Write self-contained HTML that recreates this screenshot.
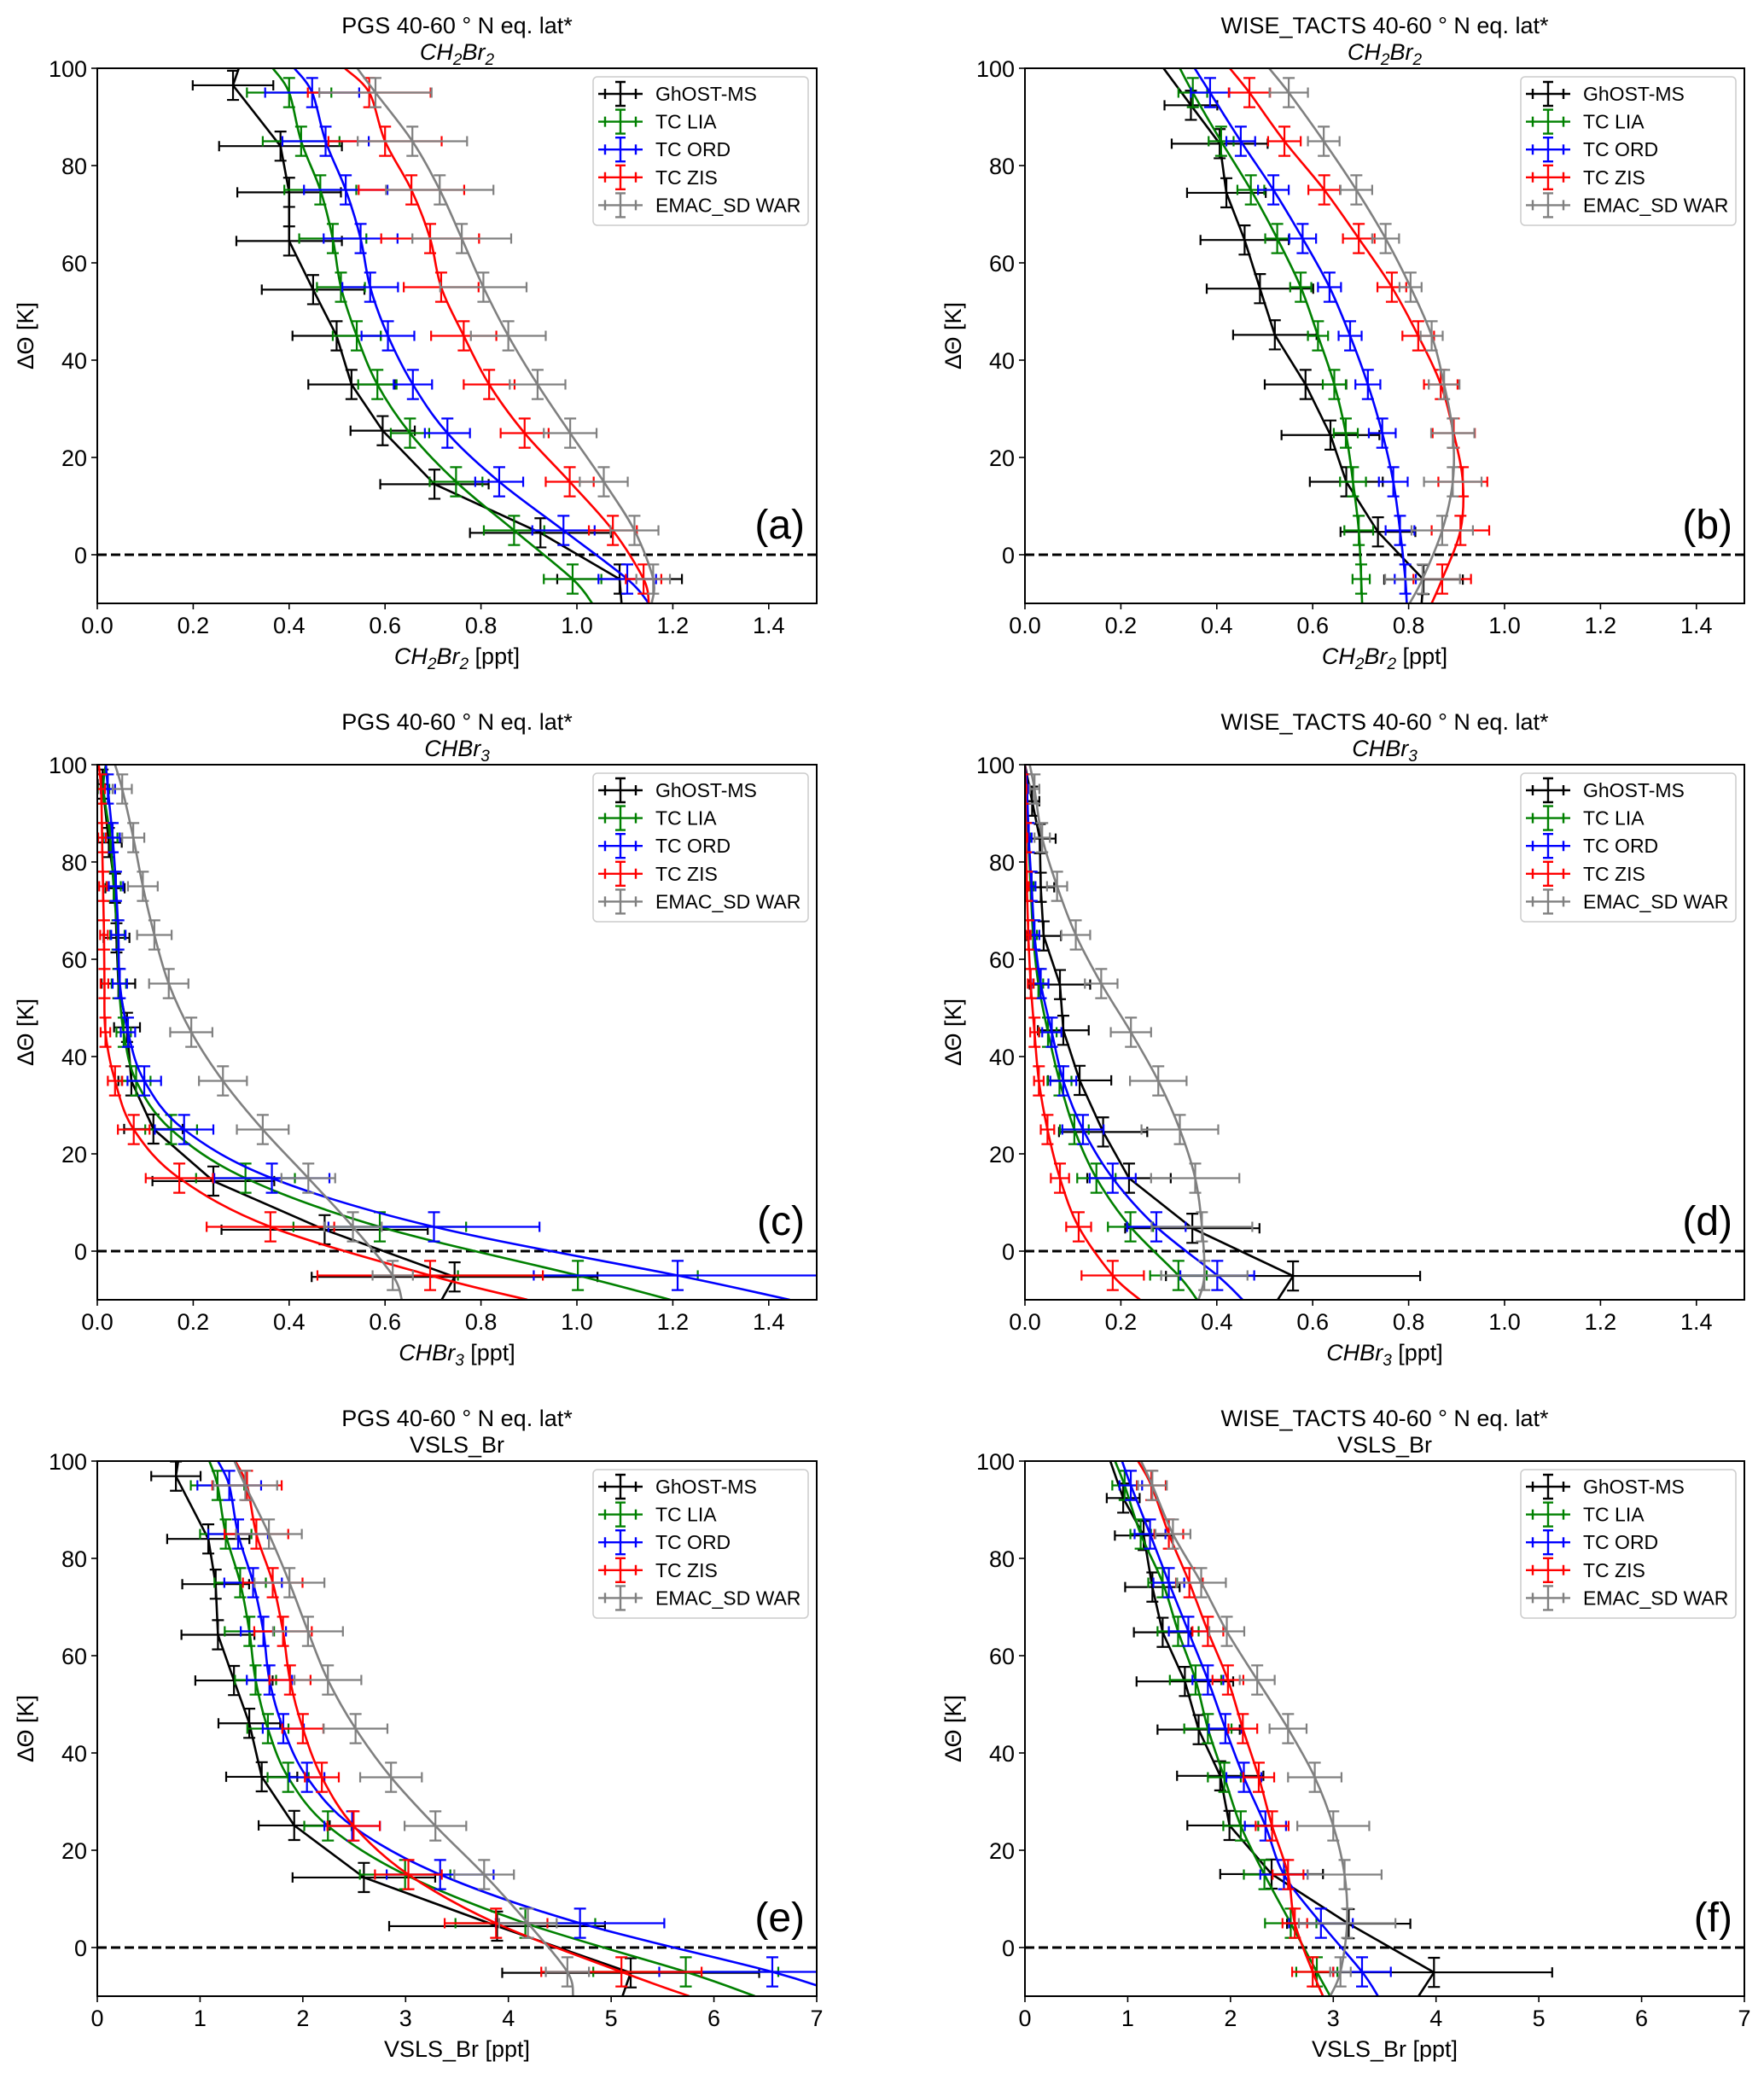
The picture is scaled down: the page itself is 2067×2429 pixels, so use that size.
<!DOCTYPE html>
<html><head><meta charset="utf-8"><style>
body{margin:0;background:#fff}
svg{display:block;font-family:"Liberation Sans","DejaVu Sans",sans-serif}
</style></head><body>
<svg id="fig" width="2067" height="2429" viewBox="0 0 2067 2429" xmlns="http://www.w3.org/2000/svg"></svg>
<script>
// ---- shared data ----
const modelLevels=[95,85,75,65,55,45,35,25,15,5,-5];
const seriesNames=["GhOST-MS","TC LIA","TC ORD","TC ZIS","EMAC_SD WAR"];
const seriesColors=["#000000","#008000","#0000ff","#ff0000","#808080"];
// ---- panel a ----
const a_obsLevels=[96.5,84,74.5,64.5,54.5,45,35,25.5,14.5,4.5,-5];
const a_ghost=[0.283,0.382,0.40,0.40,0.45,0.499,0.53,0.595,0.703,0.924,1.089];
const a_ghostErr=[0.084,0.128,0.108,0.11,0.107,0.092,0.09,0.067,0.113,0.147,0.13];
const a_lia=[0.40,0.425,0.465,0.491,0.508,0.541,0.584,0.652,0.748,0.869,0.991];
const a_liaErr=[0.088,0.08,0.075,0.07,0.05,0.05,0.04,0.04,0.055,0.063,0.06];
const a_ord=[0.448,0.476,0.518,0.549,0.569,0.606,0.658,0.73,0.838,0.972,1.105];
const a_ordErr=[0.098,0.09,0.087,0.077,0.058,0.055,0.04,0.047,0.05,0.065,0.06];
const a_zis=[0.567,0.6,0.655,0.694,0.717,0.764,0.817,0.891,0.985,1.075,1.139];
const a_zisErr=[0.128,0.118,0.11,0.102,0.078,0.068,0.053,0.05,0.05,0.05,0.037];
const a_war=[0.58,0.657,0.714,0.76,0.805,0.857,0.918,0.986,1.056,1.12,1.159];
const a_warErr=[0.117,0.114,0.112,0.103,0.09,0.078,0.058,0.055,0.05,0.05,0.035];
const a_top=[0.295,0.366,0.411,0.516,0.542];
const a_bottom=[1.093,1.032,1.15,1.15,1.156];
// ---- panel b ----
const b_obsLevels=[92.4,84.5,74.4,64.7,54.7,45.2,35,24.6,15,4.7,-5.1];
const b_ghost=[0.346,0.406,0.42,0.458,0.49,0.521,0.585,0.637,0.67,0.736,0.831];
const b_ghostErr=[0.055,0.1,0.082,0.092,0.111,0.087,0.085,0.102,0.076,0.078,0.082];
const b_lia=[0.35,0.409,0.471,0.526,0.575,0.611,0.645,0.669,0.684,0.696,0.701];
const b_liaErr=[0.03,0.026,0.028,0.025,0.022,0.021,0.024,0.025,0.027,0.03,0.018];
const b_ord=[0.386,0.45,0.518,0.579,0.635,0.678,0.715,0.745,0.768,0.782,0.793];
const b_ordErr=[0.04,0.03,0.032,0.028,0.024,0.024,0.026,0.028,0.03,0.03,0.022];
const b_zis=[0.468,0.541,0.624,0.696,0.765,0.82,0.867,0.894,0.913,0.908,0.87];
const b_zisErr=[0.043,0.034,0.033,0.033,0.03,0.033,0.035,0.044,0.051,0.06,0.06];
const b_war=[0.55,0.623,0.691,0.752,0.804,0.848,0.874,0.892,0.892,0.87,0.829];
const b_warErr=[0.04,0.033,0.033,0.028,0.023,0.023,0.032,0.045,0.06,0.064,0.078];
const b_top=[0.289,0.323,0.354,0.427,0.509];
const b_bottom=[0.827,0.703,0.796,0.848,0.802];
// ---- panel c ----
const c_obsLevels=[96,84,74.6,64.4,55,46,35,25.1,14.4,4.4,-5.3];
const c_ghost=[0.011,0.024,0.037,0.04,0.044,0.062,0.071,0.117,0.242,0.474,0.745];
const c_ghostErr=[0.01,0.027,0.02,0.027,0.035,0.027,0.027,0.061,0.127,0.215,0.298];
const c_lia=[0.013,0.027,0.034,0.042,0.045,0.055,0.081,0.154,0.309,0.589,1.002];
const c_liaErr=[0.012,0.015,0.015,0.015,0.015,0.015,0.03,0.054,0.103,0.18,0.25];
const c_ord=[0.022,0.032,0.039,0.044,0.047,0.064,0.098,0.181,0.364,0.702,1.21];
const c_ordErr=[0.015,0.015,0.015,0.015,0.015,0.015,0.035,0.061,0.12,0.22,0.3];
const c_zis=[0.008,0.01,0.012,0.014,0.015,0.017,0.037,0.076,0.171,0.361,0.694];
const c_zisErr=[0.008,0.008,0.008,0.008,0.008,0.01,0.015,0.033,0.07,0.133,0.235];
const c_war=[0.052,0.075,0.095,0.119,0.149,0.196,0.262,0.345,0.44,0.533,0.616];
const c_warErr=[0.02,0.023,0.031,0.036,0.041,0.044,0.05,0.054,0.056,0.06,0.042];
const c_top=[0.018,0.018,0.018,0.003,0.037];
const c_bottom=[0.718,1.195,1.444,0.897,0.635];
// ---- panel d ----
const d_obsLevels=[92.5,84.8,74.8,64.8,54.8,45.4,35.1,24.5,15,4.7,-5.1];
const d_ghost=[0.015,0.031,0.033,0.039,0.073,0.08,0.114,0.163,0.217,0.349,0.559];
const d_ghostErr=[0.015,0.033,0.028,0.036,0.063,0.053,0.066,0.092,0.087,0.14,0.265];
const d_lia=[0.004,0.007,0.012,0.017,0.028,0.048,0.072,0.103,0.149,0.22,0.32];
const d_liaErr=[0.004,0.005,0.006,0.008,0.01,0.018,0.025,0.03,0.04,0.047,0.059];
const d_ord=[0.004,0.008,0.014,0.02,0.033,0.056,0.08,0.121,0.183,0.274,0.401];
const d_ordErr=[0.004,0.006,0.008,0.01,0.016,0.02,0.027,0.043,0.048,0.061,0.077];
const d_zis=[0.001,0.002,0.004,0.007,0.012,0.02,0.029,0.047,0.073,0.112,0.183];
const d_zisErr=[0.002,0.003,0.004,0.005,0.006,0.009,0.01,0.014,0.019,0.026,0.065];
const d_war=[0.02,0.036,0.067,0.106,0.159,0.221,0.278,0.323,0.355,0.369,0.374];
const d_warErr=[0.01,0.016,0.021,0.03,0.034,0.042,0.059,0.08,0.092,0.105,0.09];
const d_top=[0,0,0,0,0.01];
const d_bottom=[0.527,0.359,0.454,0.24,0.362];
// ---- panel e ----
const e_obsLevels=[96.9,84,74.7,64.3,54.9,46.1,35.1,25.1,14.4,4.4,-5.2];
const e_ghost=[0.765,1.08,1.152,1.174,1.33,1.479,1.6,1.916,2.594,3.89,5.19];
const e_ghostErr=[0.24,0.4,0.325,0.355,0.376,0.3,0.346,0.346,0.694,1.05,1.25];
const e_lia=[1.17,1.25,1.39,1.48,1.54,1.66,1.857,2.244,2.995,4.165,5.726];
const e_liaErr=[0.26,0.25,0.25,0.24,0.2,0.2,0.2,0.23,0.44,0.68,0.9];
const e_ord=[1.284,1.37,1.516,1.616,1.675,1.81,2.04,2.48,3.336,4.697,6.568];
const e_ordErr=[0.31,0.29,0.28,0.22,0.22,0.2,0.17,0.27,0.52,0.82,1.1];
const e_zis=[1.457,1.548,1.707,1.807,1.875,2.0,2.185,2.494,3.027,3.88,5.1];
const e_zisErr=[0.337,0.31,0.29,0.28,0.2,0.2,0.165,0.255,0.325,0.5,0.78];
const e_war=[1.44,1.67,1.87,2.05,2.244,2.513,2.858,3.29,3.764,4.19,4.574];
const e_warErr=[0.31,0.32,0.34,0.34,0.325,0.31,0.3,0.3,0.29,0.28,0.21];
const e_top=[0.787,1.09,1.174,1.343,1.334];
const e_bottom=[5.11,6.40,7.3,5.76,4.63];
// ---- panel f ----
const f_obsLevels=[92.4,84.7,74.1,64.8,54.7,44.8,35.3,25.1,15.1,4.9,-5.1];
const f_ghost=[0.956,1.155,1.24,1.34,1.556,1.69,1.9,1.99,2.4,3.15,3.98];
const f_ghostErr=[0.16,0.28,0.265,0.28,0.47,0.4,0.42,0.41,0.5,0.6,1.15];
const f_lia=[0.97,1.126,1.34,1.49,1.66,1.78,1.94,2.1,2.33,2.586,2.84];
const f_liaErr=[0.12,0.1,0.14,0.2,0.25,0.23,0.16,0.17,0.2,0.25,0.2];
const f_ord=[1.03,1.217,1.40,1.59,1.78,1.95,2.13,2.34,2.52,2.88,3.28];
const f_ordErr=[0.11,0.15,0.15,0.19,0.15,0.16,0.17,0.2,0.23,0.31,0.28];
const f_zis=[1.23,1.40,1.6,1.78,1.975,2.12,2.275,2.405,2.56,2.626,2.8];
const f_zisErr=[0.14,0.14,0.13,0.15,0.15,0.14,0.15,0.16,0.15,0.12,0.2];
const f_war=[1.24,1.44,1.715,1.964,2.26,2.56,2.82,3.0,3.11,3.135,3.07];
const f_warErr=[0.14,0.17,0.24,0.17,0.17,0.18,0.26,0.35,0.36,0.47,0.1];
const f_top=[0.83,0.877,0.945,1.1,1.13];
const f_bottom=[3.83,2.97,3.435,2.9,2.97];
// tick label arrays
const ticksSmall=["0.0","0.2","0.4","0.6","0.8","1.0","1.2","1.4"];
const ticksVsls=["0","1","2","3","4","5","6","7"];
const yTicks=[0,20,40,60,80,100];

const NS="http://www.w3.org/2000/svg";
const svg=document.getElementById('fig');
function mk(tag,attrs,parent){const e=document.createElementNS(NS,tag);for(const k in attrs)e.setAttribute(k,attrs[k]);(parent||svg).appendChild(e);return e;}

const panels=[
 {id:'a',L:114,T:80,xmax:1.5,ticks:ticksSmall,tv:[0,0.2,0.4,0.6,0.8,1.0,1.2,1.4],site:'PGS',sp:'ch2br2',obs:a_obsLevels,
  x:[a_ghost,a_lia,a_ord,a_zis,a_war],err:[a_ghostErr,a_liaErr,a_ordErr,a_zisErr,a_warErr],top:a_top,bot:a_bottom},
 {id:'b',L:1201,T:80,xmax:1.5,ticks:ticksSmall,tv:[0,0.2,0.4,0.6,0.8,1.0,1.2,1.4],site:'WISE_TACTS',sp:'ch2br2',obs:b_obsLevels,
  x:[b_ghost,b_lia,b_ord,b_zis,b_war],err:[b_ghostErr,b_liaErr,b_ordErr,b_zisErr,b_warErr],top:b_top,bot:b_bottom},
 {id:'c',L:114,T:896,xmax:1.5,ticks:ticksSmall,tv:[0,0.2,0.4,0.6,0.8,1.0,1.2,1.4],site:'PGS',sp:'chbr3',obs:c_obsLevels,
  x:[c_ghost,c_lia,c_ord,c_zis,c_war],err:[c_ghostErr,c_liaErr,c_ordErr,c_zisErr,c_warErr],top:c_top,bot:c_bottom},
 {id:'d',L:1201,T:896,xmax:1.5,ticks:ticksSmall,tv:[0,0.2,0.4,0.6,0.8,1.0,1.2,1.4],site:'WISE_TACTS',sp:'chbr3',obs:d_obsLevels,
  x:[d_ghost,d_lia,d_ord,d_zis,d_war],err:[d_ghostErr,d_liaErr,d_ordErr,d_zisErr,d_warErr],top:d_top,bot:d_bottom},
 {id:'e',L:114,T:1712,xmax:7,ticks:ticksVsls,tv:[0,1,2,3,4,5,6,7],site:'PGS',sp:'vsls',obs:e_obsLevels,
  x:[e_ghost,e_lia,e_ord,e_zis,e_war],err:[e_ghostErr,e_liaErr,e_ordErr,e_zisErr,e_warErr],top:e_top,bot:e_bottom},
 {id:'f',L:1201,T:1712,xmax:7,ticks:ticksVsls,tv:[0,1,2,3,4,5,6,7],site:'WISE_TACTS',sp:'vsls',obs:f_obsLevels,
  x:[f_ghost,f_lia,f_ord,f_zis,f_war],err:[f_ghostErr,f_liaErr,f_ordErr,f_zisErr,f_warErr],top:f_top,bot:f_bottom},
];
const W=843,H=627,FS=27;

function species(parent,sp,x,y,anchor,suffix){
  const t=mk('text',{x:x,y:y,'font-size':FS,'text-anchor':anchor},parent);
  if(sp==='vsls'){t.textContent='VSLS_Br'+suffix;return t;}
  const parts= sp==='ch2br2'?[['CH',0],['2',1],['Br',0],['2',1]]:[['CHBr',0],['3',1]];
  parts.forEach(p=>{const s=mk('tspan',{'font-style':'italic'},t);if(p[1]){s.setAttribute('font-size',19);s.setAttribute('dy',6);} s.textContent=p[0];});
  let shifted=false;
  Array.from(t.childNodes).forEach(n=>{if(n.getAttribute('dy')==='6'){shifted=true;}else if(shifted){n.setAttribute('dy',-6);shifted=false;}});
  if(suffix){const s=mk('tspan',{},t);if(shifted)s.setAttribute('dy',-6);s.textContent=suffix;}
  return t;
}

function catmull(pts){
  let d='M'+pts[0][0].toFixed(1)+','+pts[0][1].toFixed(1);
  for(let i=0;i<pts.length-1;i++){
    const p0=pts[Math.max(0,i-1)],p1=pts[i],p2=pts[i+1],p3=pts[Math.min(pts.length-1,i+2)];
    const c1=[p1[0]+(p2[0]-p0[0])/6,p1[1]+(p2[1]-p0[1])/6],c2=[p2[0]-(p3[0]-p1[0])/6,p2[1]-(p3[1]-p1[1])/6];
    d+=' C'+c1[0].toFixed(1)+','+c1[1].toFixed(1)+' '+c2[0].toFixed(1)+','+c2[1].toFixed(1)+' '+p2[0].toFixed(1)+','+p2[1].toFixed(1);
  }
  return d;
}

panels.forEach(P=>{
  const g=mk('g',{});
  
  
  const sx=v=>P.L+v/P.xmax*W;
  const sy=v=>P.T+(100-v)/110*H;
  const cx=P.L+W/2;
  const t1=mk('text',{x:cx,y:P.T-41,'font-size':FS,'text-anchor':'middle'},g);
  
  
  t1.textContent=P.site+' 40-60 \u00B0 N eq. lat*';
  const t2=species(g,P.sp,cx,P.T-10,'middle','');
  
  
  const cp=mk('clipPath',{id:'clip'+P.id},g);
  mk('rect',{x:P.L,y:P.T,width:W,height:H},cp);
  const plot=mk('g',{'clip-path':'url(#clip'+P.id+')'},g);
  const z=mk('line',{x1:P.L,x2:P.L+W,y1:sy(0),y2:sy(0),stroke:'#000','stroke-width':3,'stroke-dasharray':'11,5'},plot);
  
  
  for(let s=0;s<5;s++){
    const col=seriesColors[s];
    const sg=mk('g',{},plot);
    
    
    const lv= s===0?P.obs:modelLevels;
    const pts=[[sx(P.top[s]),sy(100)]];
    lv.forEach((y,i)=>pts.push([sx(P.x[s][i]),sy(y)]));
    pts.push([sx(P.bot[s]),sy(-10)]);
    let d;
    if(s===0) d='M'+pts.map(p=>p[0].toFixed(1)+','+p[1].toFixed(1)).join(' L');
    else d=catmull(pts);
    const ln=mk('path',{d:d,fill:'none',stroke:col,'stroke-width':2.6},sg);
    
    
    lv.forEach((y,i)=>{
      const xv=P.x[s][i],e=P.err[s][i];
      const X=sx(xv),Y=sy(y),x1=sx(xv-e),x2=sx(xv+e),y1=sy(y+3),y2=sy(y-3);
      const eb=mk('path',{d:`M${x1},${Y}H${x2}M${x1},${Y-6}V${Y+6}M${x2},${Y-6}V${Y+6}M${X},${y1}V${y2}M${X-7},${y1}H${X+7}M${X-7},${y2}H${X+7}`,stroke:col,'stroke-width':2.2,fill:'none'},sg);
      
      
    });
  }
  mk('rect',{x:P.L,y:P.T,width:W,height:H,fill:'none',stroke:'#000','stroke-width':2},g);
  P.tv.forEach((v,i)=>{
    const X=sx(v);
    mk('line',{x1:X,x2:X,y1:P.T+H,y2:P.T+H+7,stroke:'#000','stroke-width':1.6},g);
    const tl=mk('text',{x:X,y:P.T+H+35,'font-size':FS,'text-anchor':'middle'},g);
    
    
    tl.textContent=P.ticks[i];
  });
  yTicks.forEach(v=>{
    const Y=sy(v);
    mk('line',{x1:P.L-7,x2:P.L,y1:Y,y2:Y,stroke:'#000','stroke-width':1.6},g);
    const tl=mk('text',{x:P.L-12,y:Y+10,'font-size':FS,'text-anchor':'end'},g);
    
    
    tl.textContent=v;
  });
  const xl=species(g,P.sp,cx,P.T+H+71,'middle',' [ppt]');
  
  
  const yl=mk('text',{x:0,y:0,'font-size':FS,'text-anchor':'middle',transform:`translate(${P.L-75},${P.T+H/2}) rotate(-90)`},g);
  
  
  yl.textContent='\u0394\u0398 [K]';
  const pl=mk('text',{x:P.L+W-14,y:P.T+551,'font-size':48,'text-anchor':'end'},g);
  
  
  pl.textContent='('+P.id+')';
  const lg=mk('g',{},g);
  
  
  const LX=P.L+W-262,LY=P.T+10;
  mk('rect',{x:LX,y:LY,width:252,height:174,rx:5,fill:'#fff','fill-opacity':0.85,stroke:'#cccccc','stroke-width':1.5},lg);
  for(let s=0;s<5;s++){
    const Y=LY+20+s*32.6,col=seriesColors[s];
    const en=mk('g',{},lg);
    
    
    mk('path',{d:`M${LX+6},${Y}H${LX+58}M${LX+14},${Y-6}V${Y+6}M${LX+50},${Y-6}V${Y+6}M${LX+32},${Y-14}V${Y+14}M${LX+26},${Y-14}H${LX+38}M${LX+26},${Y+14}H${LX+38}`,stroke:col,'stroke-width':2.4,fill:'none'},en);
    const tx=mk('text',{x:LX+73,y:Y+8,'font-size':23},en);
    tx.textContent=seriesNames[s];
  }
});
</script>
</body></html>
